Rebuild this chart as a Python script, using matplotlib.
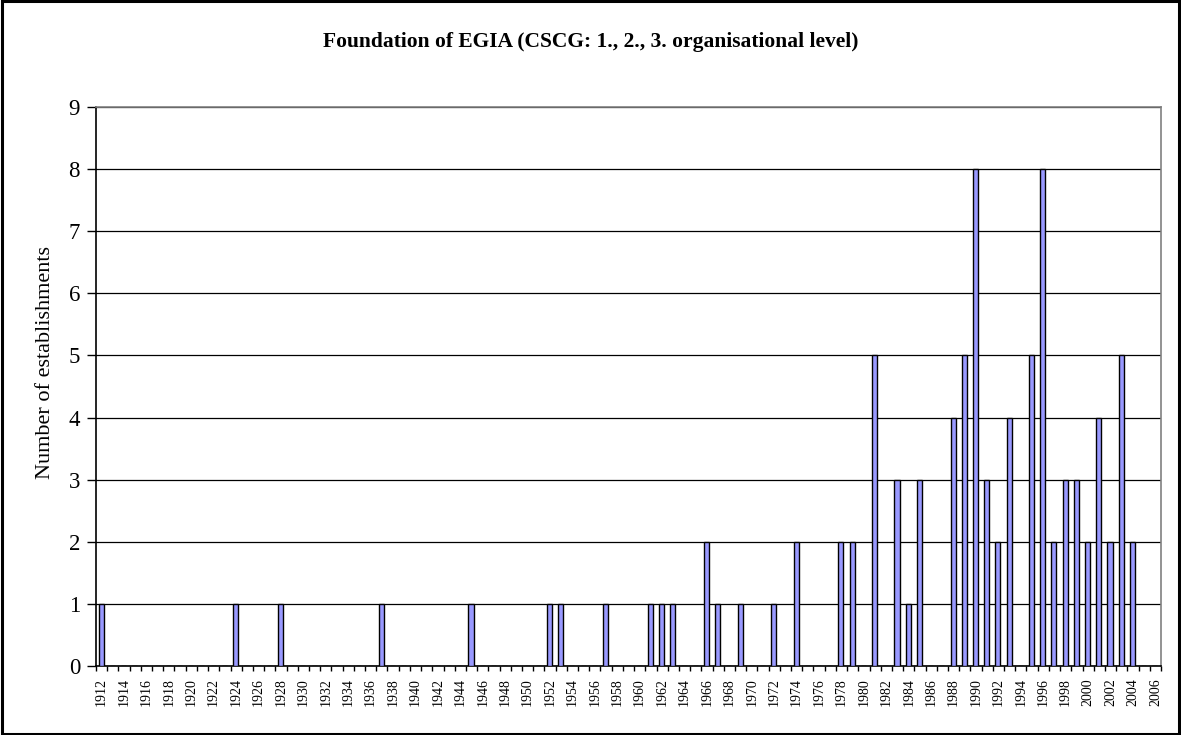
import matplotlib
matplotlib.use("Agg")
import matplotlib.pyplot as plt
from matplotlib.patches import Rectangle
import numpy as np

years = list(range(1912, 2007))
found_years = [1912, 1924, 1928, 1937, 1945, 1952, 1953, 1957, 1961, 1962, 1963,
               1966, 1967, 1969, 1972, 1974, 1978, 1979, 1981, 1983, 1984, 1985,
               1988, 1989, 1990, 1991, 1992, 1993, 1995, 1996, 1997, 1998, 1999,
               2000, 2001, 2002, 2003, 2004]
found_counts = [1, 1, 1, 1, 1, 1, 1, 1, 1, 1, 1,
                2, 1, 1, 1, 2, 2, 2, 5, 3, 1, 3,
                4, 5, 8, 3, 2, 4, 5, 8, 2, 3, 3,
                2, 4, 2, 5, 2]
counts = [found_counts[found_years.index(y)] if y in found_years else 0 for y in years]
tick_labels = [str(y) for y in years if y % 2 == 0]
y_ticks = list(range(0, 10))

plt.rcParams['font.family'] = ['Liberation Serif', 'DejaVu Serif']

fig = plt.figure(figsize=(11.81, 7.35), dpi=100)
fig.patches.append(Rectangle((0.0015, 0.002), 0.997, 0.996, transform=fig.transFigure,
                             fill=False, edgecolor='black', linewidth=2.2))
ax = fig.add_axes([96/1181, 1-666/735, (1161-96)/1181, (666-107)/735])

x = np.arange(len(years))
ax.bar(x - 0.05, counts, width=0.45, color='#9999FF', edgecolor='black', linewidth=1.0, zorder=3)

ax.set_xlim(-0.5, len(years) - 0.5)
ax.set_ylim(0, 9)
ax.set_yticks(y_ticks)
ax.set_yticklabels([str(v) for v in y_ticks], fontsize=16.5)
ax.yaxis.grid(True, color='black', linewidth=0.9, zorder=0)
ax.tick_params(axis='y', direction='out', length=6.5, width=1, pad=5)

even_pos = [i for i, y in enumerate(years) if y % 2 == 0]
ax.set_xticks(even_pos)
ax.set_xticklabels(tick_labels, rotation=90, fontsize=10)
ax.tick_params(axis='x', which='major', length=0, pad=9)
ax.set_xticks(np.arange(-0.5, len(years)), minor=True)
ax.tick_params(axis='x', which='minor', direction='out', length=3.6, width=1)

for s in ['top', 'right']:
    ax.spines[s].set_color('#808080')
    ax.spines[s].set_linewidth(1.2)
for s in ['left', 'bottom']:
    ax.spines[s].set_color('black')
    ax.spines[s].set_linewidth(1.2)

fig.text(45/1181, (1 - 362/735), 'Number of establishments', rotation=90,
         ha='center', va='center', fontsize=16)
fig.text(591/1181, 1 - 42/735, 'Foundation of EGIA (CSCG: 1., 2., 3. organisational level)',
         ha='center', va='center', fontsize=15.5, fontweight='bold')

fig.savefig('out.png', dpi=100)
